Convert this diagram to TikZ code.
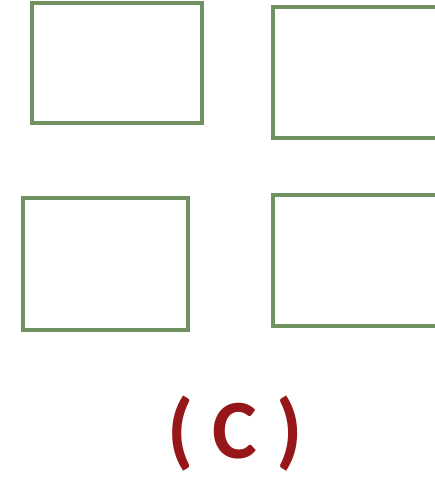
\documentclass[tikz,border=0pt]{standalone}
\usepackage{fontspec}
\setmainfont{Carlito}
\usepackage{tikz}
\usetikzlibrary{positioning}
\definecolor{boxgreen}{RGB}{112,146,96}
\definecolor{labelred}{RGB}{150,22,26}
\tikzset{
  pane/.style={draw=boxgreen, line width=2.2pt, fill=white, inner sep=0pt},
  caption/.style={text=labelred, font=\fontsize{48}{52}\selectfont\bfseries}}

\begin{document}
\begin{tikzpicture}[x=0.02cm, y=-0.02cm]
	\clip (0,0) rectangle (435,485);
	\fill[white] (0,0) rectangle (435,485);
	% top row
	\node [pane, minimum width=3.4cm, minimum height=2.4cm] (tl) at (117,63) {};
	\node [pane, minimum width=3.6cm, minimum height=2.62cm] (tr) at (363,72.5) {};
	% bottom row
	\node [pane, minimum width=3.3cm, minimum height=2.64cm] (bl) at (105.5,264) {};
	\node [pane, minimum width=3.6cm, minimum height=2.62cm] (br) at (363,260.5) {};
	\node [caption] (lab) at (235,434) {( C )};
	\end{tikzpicture}
\end{document}
